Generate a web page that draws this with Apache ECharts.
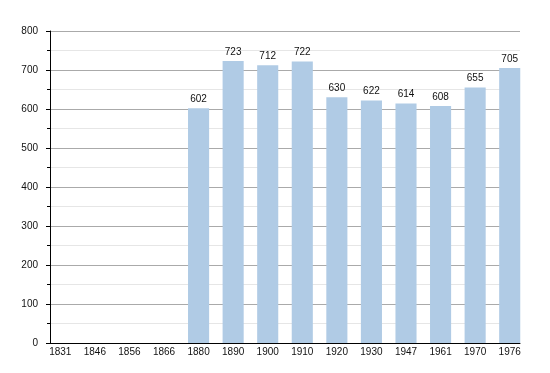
<!DOCTYPE html>
<html>
<head>
<meta charset="utf-8">
<script src="https://cdn.jsdelivr.net/npm/echarts@6/dist/echarts.min.js"></script>
<style>html,body{margin:0;padding:0;background:#fff}#c{width:550px;height:373px}</style>
</head>
<body>
<div id="c"></div>
<script>
var categories = ['1831','1846','1856','1866','1880','1890','1900','1910','1920','1930','1947','1961','1970','1976'];
var population = [null,null,null,null,602,723,712,722,630,622,614,608,655,705];
var yMin = 0, yMax = 800, yStep = 100;

var chart = echarts.init(document.getElementById('c'), null, {renderer:'canvas'});
var font = 'Liberation Sans, Arial, Helvetica, sans-serif';
chart.setOption({
  animation: false,
  backgroundColor: '#fff',
  grid: [
    {left: 50, right: 30, top: 31, bottom: 30},
    {left: 43, right: 23, top: 31, bottom: 30}
  ],
  xAxis: [
    {gridIndex: 0, type: 'value', min: 0, max: 1,
     axisLine: {show: true, onZero: false, lineStyle: {color: '#000', width: 1}},
     axisTick: {show: false}, axisLabel: {show: false}, splitLine: {show: false}},
    {gridIndex: 1, type: 'category', data: categories, boundaryGap: true,
     axisLine: {show: false}, axisTick: {show: false},
     axisLabel: {margin: 4, fontSize: 10, color: '#111', fontFamily: font, interval: 0},
     splitLine: {show: false}}
  ],
  yAxis: [
    {gridIndex: 0, type: 'value', min: yMin, max: yMax, interval: yStep,
     axisLine: {show: true, lineStyle: {color: '#000', width: 1}},
     axisTick: {show: true, length: 4, lineStyle: {color: '#000'}},
     minorTick: {show: true, splitNumber: 2, length: 3, lineStyle: {color: '#000'}},
     axisLabel: {margin: 12, fontSize: 10, color: '#111', fontFamily: font},
     splitLine: {show: true, lineStyle: {color: '#aaaaaa', width: 1}},
     minorSplitLine: {show: true, lineStyle: {color: '#e6e6e6', width: 1}}},
    {gridIndex: 1, type: 'value', min: yMin, max: yMax, interval: yStep, show: false,
     splitLine: {show: false}}
  ],
  series: [{
    type: 'bar', xAxisIndex: 1, yAxisIndex: 1,
    data: population, barWidth: '61%',
    itemStyle: {color: '#b0cbe5'},
    label: {show: true, position: 'top', distance: 4, fontSize: 10, color: '#111', fontFamily: font}
  }]
});
</script>
</body>
</html>
